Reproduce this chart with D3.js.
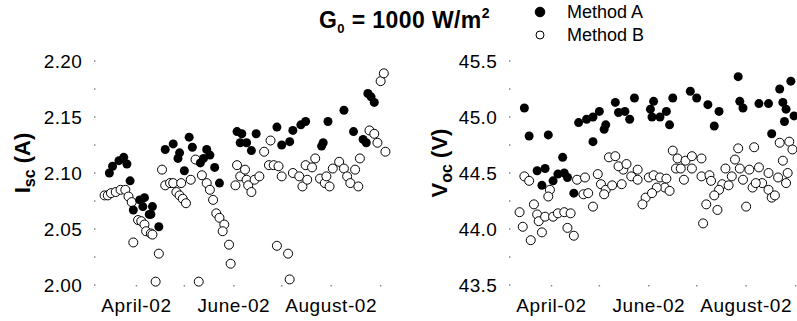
<!DOCTYPE html>
<html><head><meta charset="utf-8">
<script src="https://cdn.jsdelivr.net/npm/d3@7"></script>
<style>
html,body{margin:0;padding:0;background:#fff;}
svg{display:block;font-family:Arial,"Liberation Sans",sans-serif;}
</style></head>
<body><svg id="c" width="797" height="321"></svg>
<script>
// ---- DATA (day-of-year 2002, value) ----
const iscMethodA = [[74,2.100],[76,2.106],[80,2.111],[83,2.114],[85,2.108],[87,2.093],[89,2.067],[93,2.076],[96,2.078],[95,2.070],[99,2.063],[101,2.070],[100,2.063],[105,2.052],[109,2.121],[114,2.126],[118,2.118],[117,2.113],[124,2.132],[126,2.123],[121,2.102],[131,2.109],[133,2.113],[135,2.121],[137,2.116],[140,2.105],[143,2.091],[154,2.137],[157,2.135],[156,2.127],[160,2.127],[163,2.120],[166,2.135],[179,2.141],[182,2.125],[187,2.128],[189,2.138],[194,2.143],[197,2.146],[211,2.146],[208,2.127],[207,2.124],[221,2.156],[227,2.137],[233,2.130],[235,2.127],[236,2.171],[238,2.168],[240,2.163]];
const iscMethodB = [[71,2.080],[73,2.080],[75,2.082],[78,2.083],[81,2.085],[84,2.085],[86,2.079],[88,2.074],[92,2.058],[94,2.057],[96,2.054],[97,2.048],[100,2.046],[101,2.045],[89,2.038],[105,2.028],[103,2.003],[107,2.103],[109,2.089],[112,2.091],[114,2.091],[116,2.083],[118,2.080],[120,2.077],[122,2.073],[119,2.091],[125,2.094],[128,2.112],[130,2.003],[132,2.098],[135,2.091],[137,2.085],[139,2.076],[141,2.064],[143,2.060],[146,2.054],[145,2.048],[149,2.036],[150,2.019],[154,2.107],[153,2.089],[156,2.097],[159,2.103],[160,2.094],[161,2.089],[163,2.083],[165,2.094],[168,2.097],[171,2.119],[175,2.129],[174,2.107],[177,2.107],[180,2.106],[182,2.097],[189,2.100],[193,2.097],[195,2.088],[197,2.107],[198,2.094],[201,2.105],[203,2.113],[206,2.095],[209,2.091],[210,2.097],[212,2.088],[214,2.104],[218,2.110],[221,2.104],[223,2.097],[225,2.091],[228,2.103],[230,2.088],[231,2.113],[237,2.138],[240,2.135],[242,2.127],[247,2.119],[179,2.035],[186,2.028],[187,2.005],[244,2.182],[246,2.189]];
const vocMethodA = [[74,45.08],[77,44.83],[89,44.84],[98,44.64],[82,44.52],[87,44.54],[85,44.39],[92,44.43],[95,44.49],[101,44.46],[99,44.50],[105,44.32],[108,44.95],[113,44.98],[117,45.00],[121,45.05],[125,44.93],[124,44.89],[117,44.78],[131,45.13],[133,45.04],[137,45.05],[140,44.98],[143,45.17],[153,45.07],[155,45.14],[154,45.00],[159,45.00],[163,45.05],[165,44.93],[167,45.17],[178,45.23],[182,45.17],[189,45.11],[196,45.05],[193,44.92],[208,45.36],[209,45.14],[211,45.08],[221,45.12],[227,45.12],[229,44.85],[234,45.25],[236,45.13],[238,45.07],[237,44.96],[241,45.32],[243,45.01]];
const vocMethodB = [[71,44.15],[73,44.02],[74,44.47],[77,44.43],[78,43.90],[80,44.22],[82,44.13],[83,44.07],[87,44.11],[85,43.97],[90,44.35],[89,44.29],[92,44.11],[95,44.14],[99,44.15],[103,44.14],[101,44.01],[105,43.94],[107,44.44],[112,44.46],[111,44.31],[114,44.32],[117,44.20],[120,44.49],[122,44.40],[125,44.35],[124,44.31],[129,44.39],[135,44.40],[136,44.53],[127,44.64],[131,44.65],[133,44.56],[138,44.58],[141,44.47],[145,44.53],[145,44.44],[150,44.28],[148,44.22],[152,44.46],[155,44.48],[159,44.46],[163,44.45],[162,44.37],[157,44.37],[165,44.34],[154,44.32],[167,44.70],[170,44.63],[169,44.54],[172,44.54],[175,44.61],[179,44.65],[185,44.63],[179,44.54],[174,44.44],[185,44.47],[190,44.48],[191,44.43],[198,44.40],[196,44.35],[202,44.39],[204,44.47],[200,44.54],[193,44.30],[188,44.22],[195,44.17],[186,44.05],[206,44.62],[208,44.72],[209,44.54],[215,44.53],[211,44.44],[217,44.37],[213,44.20],[218,44.73],[221,44.55],[227,44.50],[223,44.41],[219,44.41],[227,44.35],[229,44.28],[231,44.30],[233,44.46],[236,44.61],[238,44.41],[239,44.50],[234,44.77],[240,44.78],[242,44.71]];
const monthLabels = ["April-02","June-02","August-02"];
const monthLabelDates = ["2002-04-01","2002-06-01","2002-08-01"];
const monthTickDates = ["2002-04-01","2002-05-01","2002-06-01","2002-07-01","2002-08-01","2002-09-01"];
const iscTicks = [2.00,2.05,2.10,2.15,2.20];
const iscTickLabels = ["2.00","2.05","2.10","2.15","2.20"];
const iscMinor = d3.range(0,9).map(i=>2.0+i*0.025);
const vocTicks = [43.5,44.0,44.5,45.0,45.5];
const vocTickLabels = ["43.5","44.0","44.5","45.0","45.5"];
const vocMinor = d3.range(0,9).map(i=>43.5+i*0.25);
const legendLabels = ["Method A","Method B"];

// ---- drawing ----
const svg = d3.select("#c");
const doyDate = d => d3.timeDay.offset(new Date(2002,0,1), d-1);
const parse = d3.timeParse("%Y-%m-%d");
const xDomain = [new Date(2002,2,6), new Date(2002,8,10)];
const R = 4.5;

function panel(cfg){
  const x = d3.scaleTime().domain(xDomain).range([cfg.x0, cfg.x0+300]);
  const y = d3.scaleLinear().domain(cfg.yDomain).range([285, 61]);
  const g = svg.append("g");
  g.selectAll(".yt").data(cfg.minor).join("rect")
    .attr("x", cfg.x0-1).attr("y", d=>y(d)-0.75).attr("width",1.5).attr("height",1.5).attr("fill","#888");
  g.selectAll(".xt").data(monthTickDates.map(parse)).join("rect")
    .attr("x", d=>x(d)-0.75).attr("y", 285).attr("width",1.5).attr("height",1.5).attr("fill","#888");
  g.selectAll(".yl").data(cfg.ticks).join("text")
    .attr("x", cfg.x0-13).attr("y", d=>y(d)).attr("dy","0.36em")
    .attr("text-anchor","end").attr("font-size",19).attr("letter-spacing",0.3)
    .text((d,i)=>cfg.tickLabels[i]);
  g.selectAll(".xl").data(monthLabelDates.map(parse)).join("text")
    .attr("x", d=>x(d)).attr("y", 312).attr("text-anchor","middle").attr("font-size",19)
    .attr("letter-spacing",0.6).text((d,i)=>monthLabels[i]);
  g.append("g").selectAll("circle").data(cfg.b).join("circle")
    .attr("cx", d=>x(doyDate(d[0]))).attr("cy", d=>y(d[1])).attr("r", R)
    .attr("fill","#fff").attr("stroke","#000").attr("stroke-width",1);
  g.append("g").selectAll("circle").data(cfg.a).join("circle")
    .attr("cx", d=>x(doyDate(d[0]))).attr("cy", d=>y(d[1])).attr("r", R)
    .attr("fill","#000");
  const t = g.append("text").attr("transform",`translate(${cfg.tx},163) rotate(-90)`)
    .attr("text-anchor","middle").attr("font-size",22).attr("font-weight","bold");
  t.append("tspan").text(cfg.title[0]);
  t.append("tspan").attr("font-size",16).attr("dy",5).text(cfg.title[1]);
  t.append("tspan").attr("dy",-5).text(cfg.title[2]);
}

panel({x0:95, yDomain:[2.0,2.2], ticks:iscTicks, tickLabels:iscTickLabels, minor:iscMinor,
       a:iscMethodA, b:iscMethodB, tx:30, title:["I","sc"," (A)"]});
panel({x0:510, yDomain:[43.5,45.5], ticks:vocTicks, tickLabels:vocTickLabels, minor:vocMinor,
       a:vocMethodA, b:vocMethodB, tx:447, title:["V","oc"," (V)"]});

const tt = svg.append("text").attr("x",319).attr("y",28).attr("font-size",23).attr("font-weight","bold")
  .attr("letter-spacing",0.4);
tt.append("tspan").text("G");
tt.append("tspan").attr("font-size",13).attr("dy",5).text("0");
tt.append("tspan").attr("dy",-5).text(" = 1000 W/m");
tt.append("tspan").attr("font-size",14).attr("dy",-10).text("2");

const lg = svg.append("g");
lg.selectAll("circle").data(legendLabels).join("circle")
  .attr("cx",540).attr("cy",(d,i)=>12+i*23).attr("r",(d,i)=>i?4:4.8)
  .attr("fill",(d,i)=>i?"#fff":"#000").attr("stroke","#000").attr("stroke-width",1);
lg.selectAll("text").data(legendLabels).join("text")
  .attr("x",567).attr("y",(d,i)=>18+i*23).attr("font-size",18).text(d=>d);
</script></body></html>
